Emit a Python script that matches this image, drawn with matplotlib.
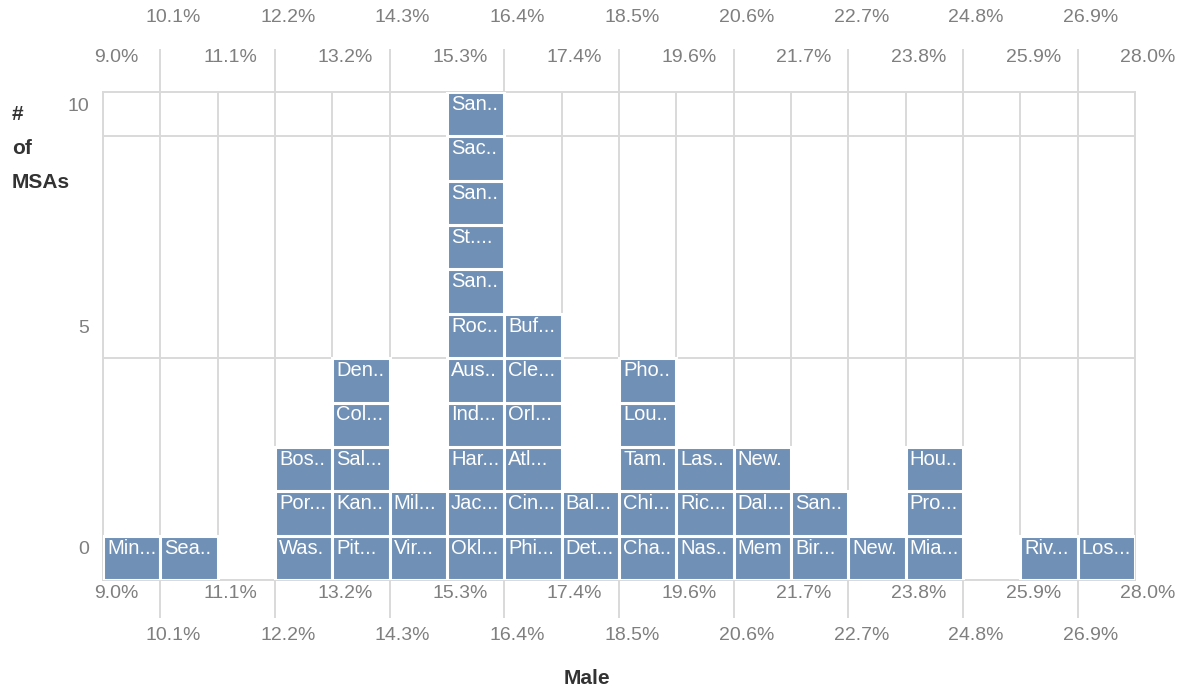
import matplotlib
matplotlib.use("Agg")
import matplotlib.pyplot as plt
import matplotlib.transforms as mtransforms
import numpy as np

plt.rcParams['font.family'] = ['Liberation Sans', 'DejaVu Sans']

# ---- data ----
bin_labels = ['9.0%', '10.1%', '11.1%', '12.2%', '13.2%', '14.3%', '15.3%', '16.4%',
              '17.4%', '18.5%', '19.6%', '20.6%', '21.7%', '22.7%', '23.8%', '24.8%',
              '25.9%', '26.9%', '28.0%']

msa_bins = [
    ['Min...'],
    ['Sea..'],
    [],
    ['Was.', 'Por...', 'Bos..'],
    ['Pit...', 'Kan..', 'Sal...', 'Col...', 'Den..'],
    ['Vir...', 'Mil...'],
    ['Okl...', 'Jac...', 'Har...', 'Ind...', 'Aus..', 'Roc..', 'San..', 'St....', 'San..', 'Sac..', 'San..'],
    ['Phi...', 'Cin...', 'Atl...', 'Orl...', 'Cle...', 'Buf...'],
    ['Det...', 'Bal...'],
    ['Cha..', 'Chi...', 'Tam.', 'Lou..', 'Pho..'],
    ['Nas..', 'Ric...', 'Las..'],
    ['Mem', 'Dal...', 'New.'],
    ['Bir...', 'San..'],
    ['New.'],
    ['Mia...', 'Pro...', 'Hou..'],
    [],
    ['Riv...'],
    ['Los...'],
]

y_ticks = [0, 5, 10]
x_title = 'Male'
y_title = '#\nof\nMSAs'

# ---- style ----
BLOCK = '#7090b6'
GRID = '#d9d9d9'
TICKC = '#7f7f7f'
TITLEC = '#333333'
W, H, DPI = 1181, 690, 100

fig = plt.figure(figsize=(W / DPI, H / DPI), dpi=DPI)
ax = fig.add_axes([103 / W, 1 - 580 / H, (1135 - 103) / W, (580 - 92) / H])

n_bins = len(msa_bins)
ax.set_xlim(0, n_bins)
ax.set_ylim(0, 11)

# blocks
xs, bottoms, names = [], [], []
for i, col in enumerate(msa_bins):
    for lvl, name in enumerate(col):
        xs.append(i)
        bottoms.append(lvl)
        names.append(name)
bars = ax.bar(xs, [1] * len(xs), bottom=bottoms, width=1, align='edge',
              color=BLOCK, edgecolor='white', linewidth=2.2, zorder=3)
for b, x, y, name in zip(bars, xs, bottoms, names):
    t = ax.text(x, y + 0.72, name, color='white', fontsize=14.5,
                ha='left', va='center', zorder=4,
                transform=ax.transData + mtransforms.ScaledTranslation(4 / DPI, 0, fig.dpi_scale_trans))
    t.set_clip_path(b)

# grid
ax.set_xticks(range(n_bins + 1))
ax.set_xticklabels([])
ax.set_yticks(y_ticks)
ax.grid(True, color=GRID, linewidth=1.4, zorder=0)
ax.set_axisbelow(True)
ax.tick_params(axis='x', length=0)
ax.tick_params(axis='y', length=0, pad=10, labelsize=14, labelcolor=TICKC)
ax.set_yticklabels([str(v) for v in y_ticks])
off = mtransforms.ScaledTranslation(0, 32 / DPI, fig.dpi_scale_trans)
for lab in ax.get_yticklabels():
    lab.set_transform(lab.get_transform() + off)
for s in ax.spines.values():
    s.set_color(GRID)
    s.set_linewidth(1.4)

# staggered x tick labels top and bottom
ax_h = 580 - 92
blend = mtransforms.blended_transform_factory(ax.transData, ax.transAxes)
shift = mtransforms.ScaledTranslation(13 / DPI, 0, fig.dpi_scale_trans)
for i, lab in enumerate(bin_labels):
    if i % 2 == 0:
        y_top = (580 - 58) / ax_h
        y_bot = (580 - 593) / ax_h
    else:
        y_top = (580 - 17) / ax_h
        y_bot = (580 - 635) / ax_h
        ax.plot([i, i], [1, 1 + 42 / ax_h], color=GRID, lw=1.4, transform=blend, clip_on=False)
        ax.plot([i, i], [0, -37 / ax_h], color=GRID, lw=1.4, transform=blend, clip_on=False)
    for yy in (y_top, y_bot):
        ax.text(i, yy, lab, ha='center', va='center', fontsize=14, color=TICKC,
                transform=blend + shift, clip_on=False)

# titles
fig.text(587 / W, 1 - 678 / H, x_title, ha='center', va='center', fontsize=15,
         fontweight='bold', color=TITLEC)
fig.text(12 / W, 1 - 148 / H, y_title, ha='left', va='center', fontsize=15,
         fontweight='bold', color=TITLEC, linespacing=2.0)

fig.savefig('out.png', dpi=DPI)
